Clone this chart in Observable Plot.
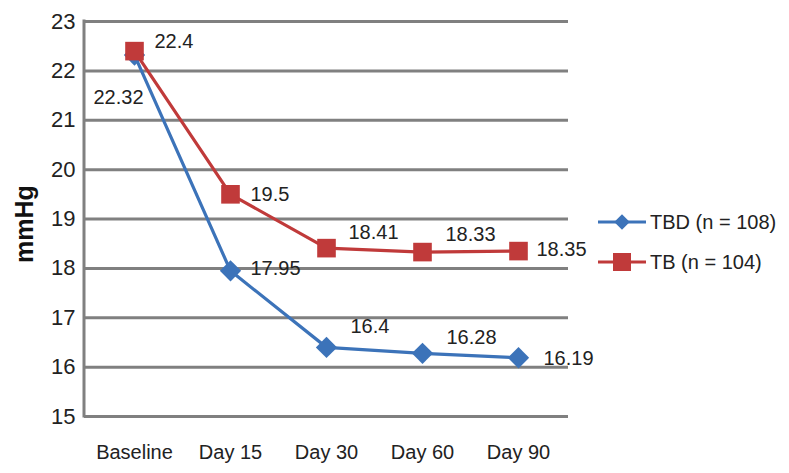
<!DOCTYPE html>
<html>
<head>
<meta charset="utf-8">
<script src="https://cdn.jsdelivr.net/npm/d3@7"></script>
<script src="https://cdn.jsdelivr.net/npm/@observablehq/plot@0.6"></script>
<style>
  html, body { margin: 0; padding: 0; background: #fff; }
  svg { display: block; }
</style>
</head>
<body>
<div id="chart"></div>
<script>
const categories = ["Baseline", "Day 15", "Day 30", "Day 60", "Day 90"];
const tbdValues = [22.32, 17.95, 16.4, 16.28, 16.19];
const tbValues = [22.4, 19.5, 18.41, 18.33, 18.35];
const yTicks = [15, 16, 17, 18, 19, 20, 21, 22, 23];
const seriesNames = ["TBD (n = 108)", "TB (n = 104)"];
const yLabel = "mmHg";

const BLUE = "#3c73b9";
const RED = "#c03a3a";
const GRID = "#808080";
const FONT = "Liberation Sans, Arial, sans-serif";

const tbdData = categories.map((c, i) => ({cat: c, v: tbdValues[i]}));
const tbData = categories.map((c, i) => ({cat: c, v: tbValues[i]}));

// label offsets (layout only)
const tbdOffsets = [[-41, 43], [20, -2], [24, -21], [24, -16], [25, 1]];
const tbOffsets = [[20, -10], [20, 0], [22, -16], [23, -17], [18, -2]];

const labelMarks = [];
tbdData.forEach((d, i) => labelMarks.push(Plot.text([d], {
  x: "cat", y: "v", text: d => String(d.v), textAnchor: "start",
  dx: tbdOffsets[i][0], dy: tbdOffsets[i][1], fontSize: 20, fill: "#222"
})));
tbData.forEach((d, i) => labelMarks.push(Plot.text([d], {
  x: "cat", y: "v", text: d => String(d.v), textAnchor: "start",
  dx: tbOffsets[i][0], dy: tbOffsets[i][1], fontSize: 20, fill: "#222"
})));

const chart = Plot.plot({
  width: 789,
  height: 473,
  marginLeft: 84,
  marginRight: 221,
  marginTop: 21,
  marginBottom: 57,
  style: {fontFamily: FONT, background: "#fff", color: "#222"},
  x: {type: "point", domain: categories, padding: 0.5},
  y: {domain: [15, 23]},
  marks: [
    Plot.ruleY(yTicks, {stroke: GRID, strokeWidth: 3}),
    Plot.axisY({ticks: yTicks, tickSize: 0, tickPadding: 9, fontSize: 22, label: null, tickFormat: d => String(d)}),
    Plot.axisX({tickSize: 0, tickPadding: 28, fontSize: 20, label: null}),
    Plot.line(tbdData, {x: "cat", y: "v", stroke: BLUE, strokeWidth: 3.2}),
    Plot.dot(tbdData, {x: "cat", y: "v", symbol: "square", r: 8.5, rotate: 45, fill: BLUE, stroke: "none"}),
    Plot.line(tbData, {x: "cat", y: "v", stroke: RED, strokeWidth: 3.2}),
    Plot.dot(tbData, {x: "cat", y: "v", symbol: "square", r: 10.5, fill: RED, stroke: "none"}),
    ...labelMarks
  ]
});

const svg = d3.select(chart);
svg.selectAll('g[aria-label="y-axis tick label"]').attr("font-size", 22);
svg.selectAll('g[aria-label="x-axis tick label"]').attr("font-size", 20);
const ys = chart.scale("y");
const [yBottom, yTop] = ys.range;
// left axis line
svg.append("line")
  .attr("x1", 84).attr("x2", 84)
  .attr("y1", yTop - 1.5).attr("y2", yBottom + 1.5)
  .attr("stroke", GRID).attr("stroke-width", 3);

// y axis title
svg.append("text")
  .attr("transform", "translate(24,224) rotate(-90)")
  .attr("text-anchor", "middle")
  .attr("dominant-baseline", "central")
  .attr("font-family", FONT)
  .attr("font-size", 25)
  .attr("font-weight", "bold")
  .attr("fill", "#111")
  .text(yLabel);

// legend
const legend = svg.append("g").attr("font-family", FONT).attr("font-size", 20).attr("fill", "#222");
const items = [
  {name: seriesNames[0], color: BLUE, y: 222, shape: "diamond"},
  {name: seriesNames[1], color: RED, y: 262, shape: "square"}
];
items.forEach(it => {
  legend.append("line").attr("x1", 598).attr("x2", 646).attr("y1", it.y).attr("y2", it.y)
    .attr("stroke", it.color).attr("stroke-width", 3);
  if (it.shape === "diamond") {
    legend.append("rect").attr("x", -5.5).attr("y", -5.5).attr("width", 11).attr("height", 11)
      .attr("fill", it.color).attr("transform", `translate(622,${it.y}) rotate(45)`);
  } else {
    legend.append("rect").attr("x", 622 - 9).attr("y", it.y - 9).attr("width", 18).attr("height", 18)
      .attr("fill", it.color);
  }
  legend.append("text").attr("x", 650).attr("y", it.y)
    .attr("text-anchor", "start")
    .attr("dominant-baseline", "central").text(it.name);
});

document.getElementById("chart").appendChild(chart);
</script>
</body>
</html>
